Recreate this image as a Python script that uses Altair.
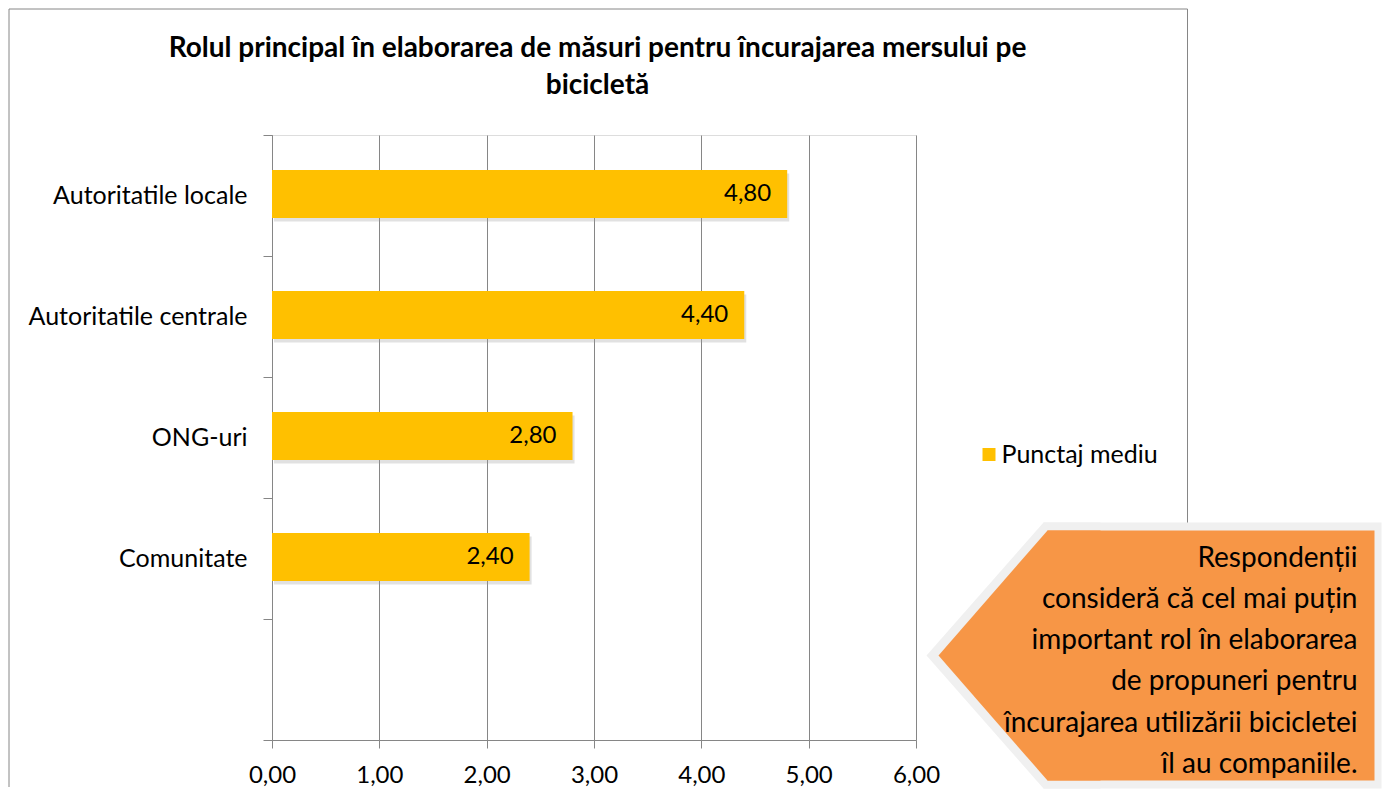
import altair as alt
import pandas as pd

# ---- data ----
categories = ["Autoritatile locale", "Autoritatile centrale", "ONG-uri", "Comunitate", ""]
bar_categories = ["Autoritatile locale", "Autoritatile centrale", "ONG-uri", "Comunitate"]
values = [4.80, 4.40, 2.80, 2.40]
series_name = "Punctaj mediu"
x_ticks = [0, 1, 2, 3, 4, 5, 6]
title_lines = ["Rolul principal în elaborarea de măsuri pentru încurajarea mersului pe", "bicicletă"]
callout_lines = [
    "Respondenții",
    "consideră că cel mai puțin",
    "important rol în elaborarea",
    "de propuneri pentru",
    "încurajarea utilizării bicicletei",
    "îl au companiile.",
]

GRAY = "#868686"
BAR = "#FFC000"
ORANGE = "#F79646"
BORDER = "#F0F0F0"
FONT = "Lato"

df = pd.DataFrame({
    "cat": bar_categories,
    "val": values,
    "series": [series_name] * len(values),
    "label": [f"{v:.2f}".replace(".", ",") for v in values],
})
deco = pd.DataFrame({"k": [0]})

y_scale = alt.Scale(domain=categories, paddingInner=0, paddingOuter=0)
x_scale = alt.Scale(domain=[0, 6], nice=False)

y_enc = alt.Y("cat:N", scale=y_scale, axis=alt.Axis(
    title=None, tickBand="extent", tickSize=9, tickColor=GRAY, domainColor=GRAY,
    labelFontSize=25, labelColor="black", labelPadding=16, labelLimit=400, grid=False, labelFont=FONT))
x_enc = alt.X("val:Q", scale=x_scale, axis=alt.Axis(
    title=None, values=x_ticks, labelExpr="replace(format(datum.value, '.2f'), '.', ',')",
    grid=True, gridColor=GRAY, tickColor=GRAY, domainColor=GRAY, tickSize=8, labelFlush=False,
    labelFontSize=24, labelColor="black", labelPadding=15, labelFont=FONT))

# outer chart frame (open at the bottom, as in the reference)
frame_left = alt.Chart(deco).mark_rule(color=GRAY, strokeWidth=1).encode(
    x=alt.value(-263), y=alt.value(-126), y2=alt.value(652))
frame_top = alt.Chart(deco).mark_rule(color=GRAY, strokeWidth=1).encode(
    x=alt.value(-263), x2=alt.value(915.5), y=alt.value(-126))
frame_right = alt.Chart(deco).mark_rule(color=GRAY, strokeWidth=1).encode(
    x=alt.value(915.5), y=alt.value(-126), y2=alt.value(652))

title = alt.Chart(deco).mark_text(
    align="center", baseline="middle", fontSize=28, fontWeight="bold", lineHeight=37,
    font=FONT, color="black").encode(
    x=alt.value(325.5), y=alt.value(-86.5), text=alt.value(title_lines))

shadow = alt.Chart(df).mark_bar(color="#9a9a9a", opacity=0.3, xOffset=2, yOffset=2, size=48).encode(
    x=alt.X("val:Q", scale=x_scale), y=alt.Y("cat:N", scale=y_scale))

bars = alt.Chart(df).mark_bar(color=BAR, size=48, yOffset=-1.5).encode(
    x=x_enc, y=y_enc,
    color=alt.Color("series:N", scale=alt.Scale(domain=[series_name], range=[BAR]),
                    legend=alt.Legend(title=None, orient="none", legendX=704.5, legendY=307,
                                      symbolType="square", symbolSize=169, symbolStrokeWidth=0,
                                      labelFontSize=25, labelColor="black", labelFont=FONT,
                                      labelOffset=0, padding=0)))

labels = alt.Chart(df).mark_text(align="right", dx=-16, dy=-1.5, fontSize=24, color="black", font=FONT).encode(
    x=alt.X("val:Q", scale=x_scale), y=alt.Y("cat:N", scale=y_scale), text="label:N")

# callout: light border shape, then orange shape (rect body + arrow tip)
gray_body = alt.Chart(deco).mark_rect(color=BORDER, opacity=1).encode(
    x=alt.value(771.5), x2=alt.value(1109.5), y=alt.value(387.5), y2=alt.value(653.5))
gray_tip = alt.Chart(deco).mark_point(
    shape="M -0.654 0 L 0.2256 -1 L 0.654 -1 L 0.654 1 L 0.2256 1 Z",
    size=70756, filled=True, fill=BORDER, strokeWidth=0, opacity=1, fillOpacity=1).encode(
    x=alt.value(741.5), y=alt.value(520.5))
orange_body = alt.Chart(deco).mark_rect(color=ORANGE, opacity=1).encode(
    x=alt.value(775.5), x2=alt.value(1102.5), y=alt.value(395.5), y2=alt.value(645.5))
orange_tip = alt.Chart(deco).mark_point(
    shape="M -0.648 0 L 0.224 -1 L 0.648 -1 L 0.648 1 L 0.224 1 Z",
    size=62500, filled=True, fill=ORANGE, strokeWidth=0, opacity=1, fillOpacity=1).encode(
    x=alt.value(747.5), y=alt.value(520.5))
callout_text = alt.Chart(deco).mark_text(
    align="right", baseline="middle", fontSize=28, lineHeight=41.3, font=FONT, color="black").encode(
    x=alt.value(1085.5), y=alt.value(423.5), text=alt.value(callout_lines))

chart = alt.layer(
    frame_left, frame_top, frame_right, title, shadow, bars, labels,
    gray_body, gray_tip, orange_body, orange_tip, callout_text
).properties(
    width=644, height=605, padding=0,
).configure_view(stroke=None).configure(font=FONT)

chart.save("out.html", embed_options={"renderer": "svg", "actions": False})
